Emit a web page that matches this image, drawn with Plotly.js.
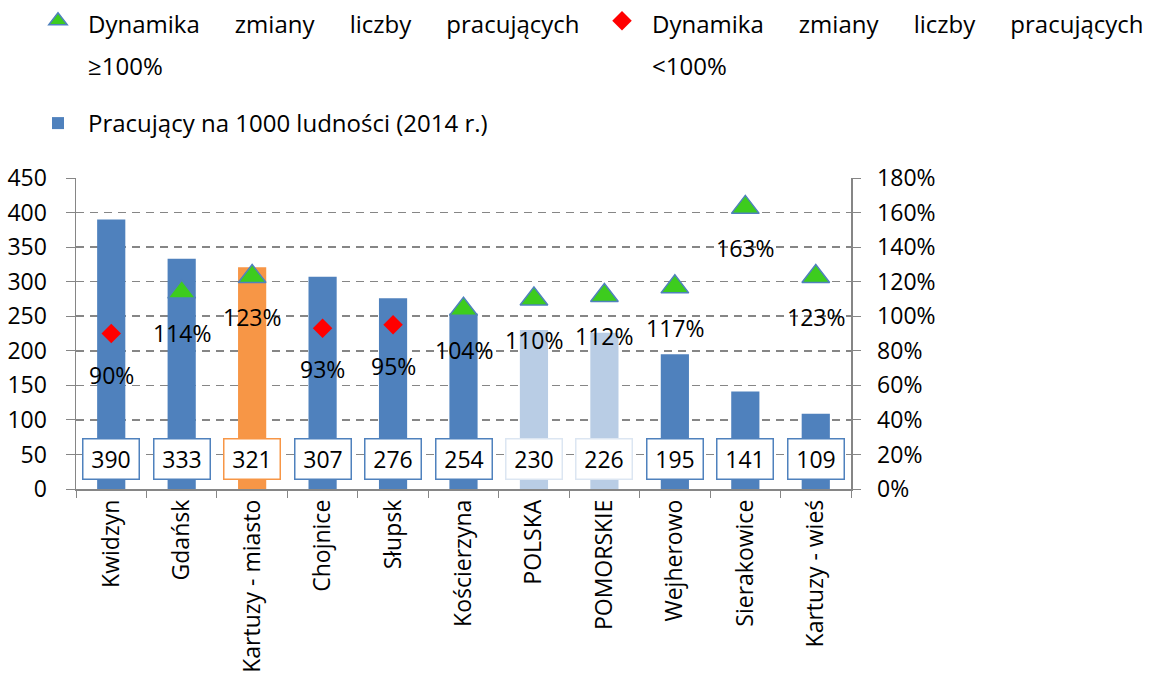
<!DOCTYPE html>
<html>
<head>
<meta charset="utf-8">
<script src="https://cdn.plot.ly/plotly-3.0.1.min.js"></script>
<style>
  html, body { margin: 0; padding: 0; background: #fff; }
  #chart { width: 1154px; height: 675px; }
</style>
</head>
<body>
<div id="chart"></div>
<script>
// Pracujacy na 1000 ludnosci + dynamika zmiany liczby pracujacych
const categories = ['Kwidzyn', 'Gdańsk', 'Kartuzy - miasto', 'Chojnice', 'Słupsk', 'Kościerzyna',
  'POLSKA', 'POMORSKIE', 'Wejherowo', 'Sierakowice', 'Kartuzy - wieś'];
const workers = [390, 333, 321, 307, 276, 254, 230, 226, 195, 141, 109];
const dynamics = [0.90, 1.14, 1.23, 0.93, 0.95, 1.04, 1.10, 1.12, 1.17, 1.63, 1.23];
const barColors = ['#4F81BD', '#4F81BD', '#F79646', '#4F81BD', '#4F81BD', '#4F81BD',
  '#B9CDE5', '#B9CDE5', '#4F81BD', '#4F81BD', '#4F81BD'];
const boxColors = ['#4F81BD', '#4F81BD', '#F79646', '#4F81BD', '#4F81BD', '#4F81BD',
  '#DCE6F2', '#DCE6F2', '#4F81BD', '#4F81BD', '#4F81BD'];

const FONT = 'Open Sans, Liberation Sans, sans-serif';
const GRID = '#868686';
const sp = '\u00A0'.repeat(5) + '\u2009';

// tekst legendy: mniejsza czcionka w spanie, wieksza w legendzie -> wiekszy odstep linii
const legendName = (tail) => '<span style="font-size:24px">Dynamika' + sp + 'zmiany' + sp + 'liczby' + sp +
  'pracujących</span><br><span style="font-size:24px">' + tail + '</span>';

// podzial na dwie serie znacznikow (>=100% trojkat, <100% romb)
const up = dynamics.map(v => v >= 1 ? v : null);
const down = dynamics.map(v => v < 1 ? v : null);

const traces = [
  {
    x: categories, y: up, yaxis: 'y2', type: 'scatter', mode: 'markers',
    name: legendName('≥100%'),
    marker: { symbol: 'triangle-up', size: 24, color: '#3DCC1E', line: { color: '#4F81BD', width: 1.5 } },
  },
  {
    x: categories, y: down, yaxis: 'y2', type: 'scatter', mode: 'markers', legend: 'legend3',
    name: legendName('&lt;100%'),
    marker: { symbol: 'diamond', size: 15, color: '#FF0000', line: { width: 0 } },
  },
  {
    x: categories, y: workers, type: 'bar', name: 'Pracujący na 1000 ludności (2014 r.)',
    marker: { color: barColors }, width: 0.4, legend: 'legend2',
  },
];

const annotations = [];
categories.forEach((c, i) => {
  annotations.push({
    x: c, y: 43, xref: 'x', yref: 'y', text: String(workers[i]), showarrow: false,
    bgcolor: '#ffffff', bordercolor: boxColors[i], borderwidth: 1.5, borderpad: 0,
    width: 55, height: 39, font: { family: FONT, size: 23, color: '#000' },
  });
  annotations.push({
    x: c, y: dynamics[i], xref: 'x', yref: 'y2', yshift: -41, showarrow: false,
    text: Math.round(dynamics[i] * 100) + '%', font: { family: FONT, size: 23, color: '#000' },
  });
});

// legendy w pikselach kontenera (x lewy brzeg, y pozycja kotwicy od gory)
const legendBase = (x, yPx, anchor, size) => ({
  orientation: 'h', xref: 'container', yref: 'container',
  x: x / 1154, xanchor: 'left', y: 1 - yPx / 675, yanchor: anchor,
  valign: 'top', itemwidth: 50, font: { family: FONT, size: size, color: '#000' },
});

const layout = {
  width: 1154, height: 675,
  margin: { l: 76, r: 303, t: 178, b: 186 },
  font: { family: FONT, size: 23, color: '#000' },
  paper_bgcolor: '#ffffff', plot_bgcolor: '#ffffff',
  showlegend: true,
  legend: legendBase(28, 42, 'middle', 32),
  legend3: legendBase(592, 42, 'middle', 32),
  legend2: legendBase(28, 101, 'top', 24),
  xaxis: {
    range: [-0.5, 10.5],
    tickangle: -90, showline: true, linecolor: GRID, linewidth: 1.5,
    ticks: 'outside', ticklen: 7, tickcolor: GRID, tickson: 'boundaries',
    tickfont: { family: FONT, size: 23 },
    showgrid: false,
  },
  yaxis: {
    range: [0, 450], dtick: 50, showline: true, linecolor: GRID, linewidth: 1.5,
    ticks: 'outside', ticklen: 9, tickcolor: GRID, ticklabelstandoff: 14,
    showgrid: true, gridcolor: GRID, gridwidth: 1.5, griddash: '8px,6px',
    zeroline: false,
  },
  yaxis2: {
    range: [0, 1.8], dtick: 0.2, tickformat: '.0%', overlaying: 'y', side: 'right',
    showline: true, linecolor: GRID, linewidth: 1.5,
    ticks: 'outside', ticklen: 8, tickcolor: GRID, ticklabelstandoff: 12,
    showgrid: false, zeroline: false,
  },
  annotations: annotations,
};

Plotly.newPlot('chart', traces, layout, { displayModeBar: false, staticPlot: true });
</script>
</body>
</html>
